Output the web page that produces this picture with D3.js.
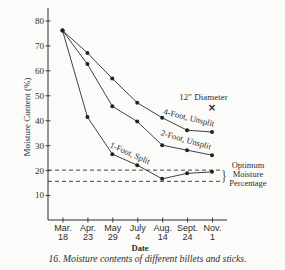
<!DOCTYPE html>
<html>
<head>
<meta charset="utf-8">
<script src="https://cdn.jsdelivr.net/npm/d3@7"></script>
<style>
  html, body { margin: 0; padding: 0; background: #fbfbf9; }
  svg { display: block; font-family: "Liberation Serif", "DejaVu Serif", serif; }
</style>
</head>
<body>
<div id="chart"></div>
<script>
const months = ['Mar.', 'Apr.', 'May', 'July', 'Aug.', 'Sept.', 'Nov.'];
const days = ['18', '23', '29', '4', '14', '24', '1'];
const dates = months.map((m, i) => m + ' ' + days[i]);

const fourFoot = [76, 67, 56.7, 47, 41, 36, 35.3];
const twoFoot = [76, 62.5, 45.6, 39.5, 30, 28, 26];
const oneFoot = [76, 41.3, 26.4, 22, 16.5, 18.7, 19.3];
const optimumBand = [20, 15.5];
const diameter12 = { date: 'Nov. 1', value: 45 };
const yTicks = [10, 20, 30, 40, 50, 60, 70, 80];

const width = 285, height = 270;
const ink = '#2e2e2e';

const svg = d3.select('#chart').append('svg')
  .attr('width', width).attr('height', height);

const x = d3.scalePoint().domain(dates).range([62.5, 212]);
const y = d3.scaleLinear().domain([0, 85]).range([220, 8]);
const x0 = 48, xEnd = 227;

// axes lines
svg.append('line').attr('x1', x0).attr('x2', x0).attr('y1', y(85)).attr('y2', y(0))
  .attr('stroke', ink).attr('stroke-width', 1);
svg.append('line').attr('x1', x0).attr('x2', xEnd).attr('y1', y(0)).attr('y2', y(0))
  .attr('stroke', ink).attr('stroke-width', 1);

// y ticks
const yAxis = svg.append('g').attr('transform', `translate(${x0},0)`)
  .call(d3.axisLeft(y).tickValues(yTicks).tickSize(0).tickPadding(4));
yAxis.select('.domain').remove();
yAxis.selectAll('.tick line').remove();
yAxis.selectAll('.tick').append('line').attr('x1', -2.5).attr('x2', 2.5)
  .attr('stroke', ink).attr('stroke-width', 0.9);
yAxis.selectAll('.tick text').attr('fill', ink)
  .style('font-size', '9px').style('font-family', '"Liberation Serif", serif');

// x ticks
const xAxis = svg.append('g').attr('transform', `translate(0,${y(0)})`)
  .call(d3.axisBottom(x).tickSize(0).tickFormat(''));
xAxis.select('.domain').remove();
xAxis.selectAll('.tick line').remove();
xAxis.selectAll('.tick').append('line').attr('y1', -2.5).attr('y2', 2.5)
  .attr('stroke', ink).attr('stroke-width', 0.9);
xAxis.selectAll('.tick text').remove();
xAxis.selectAll('.tick').each(function(d, i) {
  const t = d3.select(this).append('text').attr('text-anchor', 'middle')
    .attr('fill', ink).style('font-size', '9px');
  t.append('tspan').attr('x', 0).attr('y', 11).text(months[i]);
  t.append('tspan').attr('x', 0).attr('y', 19.5).text(days[i]);
});

// axis titles
svg.append('text').attr('x', 140).attr('y', 251).attr('text-anchor', 'middle')
  .attr('fill', ink).style('font-size', '8.5px').style('font-weight', 'bold').text('Date');
svg.append('text').attr('transform', 'translate(30,117) rotate(-90)')
  .attr('text-anchor', 'middle').attr('fill', ink).style('font-size', '9px')
  .text('Moisture Content (%)');

// optimum band (dashed)
svg.selectAll('.opt').data(optimumBand).join('line')
  .attr('x1', x0).attr('x2', 220)
  .attr('y1', d => y(d)).attr('y2', d => y(d))
  .attr('stroke', ink).attr('stroke-width', 0.9).attr('stroke-dasharray', '4,3');

svg.append('text').attr('x', 224).attr('y', (y(optimumBand[0]) + y(optimumBand[1])) / 2 + 4.5)
  .attr('text-anchor', 'middle').attr('fill', ink)
  .style('font-size', '15px').style('font-weight', '300')
  .attr('transform', `scale(0.7,1) translate(${224 / 0.7 - 224},0)`).text('}');

const opt = svg.append('text').attr('text-anchor', 'middle').attr('fill', ink)
  .style('font-size', '8.5px');
['Optimum', 'Moisture', 'Percentage'].forEach((s, i) => {
  opt.append('tspan').attr('x', 248).attr('y', 167.5 + i * 9.3).text(s);
});

// series
const series = [
  { name: '4-Foot, Unsplit', values: fourFoot, label: [189, 117.5, 14] },
  { name: '2-Foot, Unsplit', values: twoFoot, label: [186, 139.5, 16] },
  { name: '1-Foot, Split', values: oneFoot, label: [130, 153, 24] }
];

const line = d3.line().x((d, i) => x(dates[i])).y(d => y(d));

series.forEach(s => {
  svg.append('path').datum(s.values).attr('d', line)
    .attr('fill', 'none').attr('stroke', ink).attr('stroke-width', 0.9);
  svg.selectAll(null).data(s.values).join('circle')
    .attr('cx', (d, i) => x(dates[i])).attr('cy', d => y(d)).attr('r', 2)
    .attr('fill', '#222');
  svg.append('text')
    .attr('transform', `translate(${s.label[0]},${s.label[1]}) rotate(${s.label[2]})`)
    .attr('text-anchor', 'middle').attr('dy', '0.35em').attr('fill', ink)
    .style('font-size', '8.5px').text(s.name);
});

// 12" diameter point
svg.append('text').attr('x', 203.5).attr('y', 100).attr('text-anchor', 'middle')
  .attr('fill', ink).style('font-size', '9px').text('12" Diameter');
svg.append('text').attr('x', x(diameter12.date)).attr('y', y(diameter12.value))
  .attr('dy', '0.35em').attr('text-anchor', 'middle').attr('fill', '#222')
  .style('font-size', '10px').style('font-weight', 'bold')
  .style('font-family', '"DejaVu Sans", sans-serif').text('\u00d7');

// caption
svg.append('text').attr('x', 147.5).attr('y', 262).attr('text-anchor', 'middle')
  .attr('fill', ink).style('font-size', '9.7px').style('font-style', 'italic')
  .text('16. Moisture contents of different billets and sticks.');
</script>
</body>
</html>
